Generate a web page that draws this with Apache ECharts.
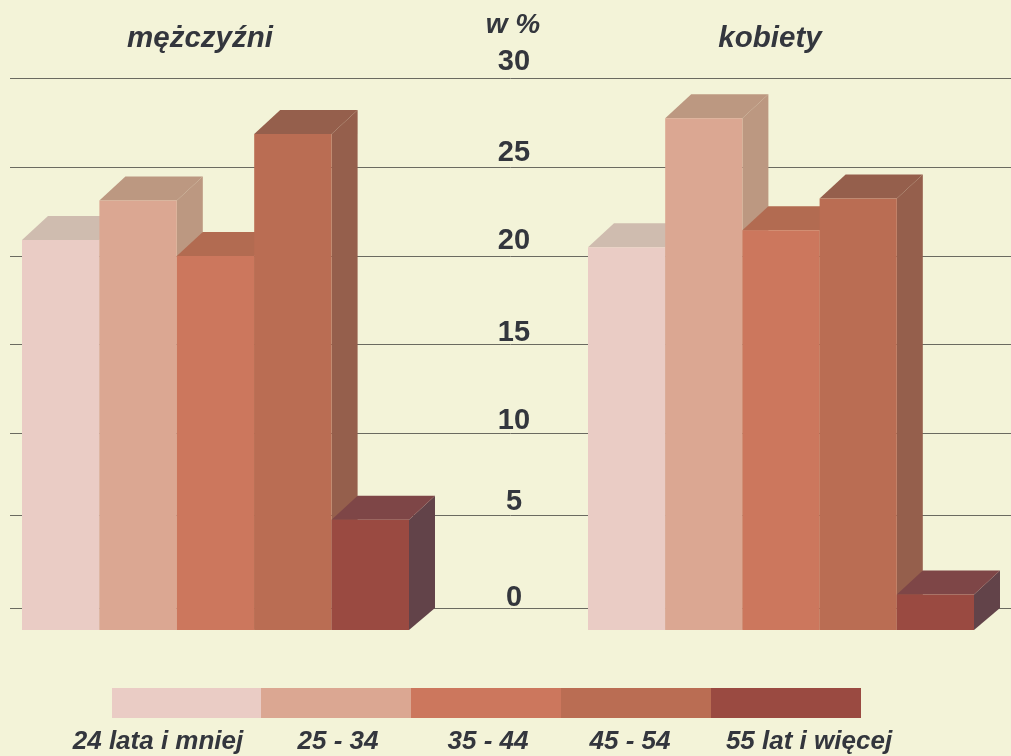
<!DOCTYPE html>
<html>
<head>
<meta charset="utf-8">
<style>
  html, body { margin: 0; padding: 0; background: #f3f3d8; }
  #chart { width: 1011px; height: 756px; }
</style>
</head>
<body>
<div id="chart"></div>
<script src="https://cdn.jsdelivr.net/npm/echarts@6/dist/echarts.min.js"></script>
<script>
const ageGroups = ['24 lata i mniej', '25 - 34', '35 - 44', '45 - 54', '55 lat i więcej']
const menValues = [22.2, 24.44, 21.3, 28.2, 6.36]
const womenValues = [21.79, 29.1, 22.75, 24.55, 2.13]
// the lines and the numbers in the picture are not quite on the even steps
const gridLineValues = [0, 5.27, 9.92, 14.96, 19.94, 24.99, 30]
const tickLabelValues = [0.56, 6.0, 10.59, 15.58, 20.79, 25.78, 30.93]

const frontColors = ['#eaccc5', '#dba792', '#cc775d', '#ba6d53', '#9a4a41']
const topColors = ['#cfbcaf', '#bc9881', '#b26b51', '#955f4c', '#7e4647']
const sideColors = ['#cfbcaf', '#bc9881', '#b26b51', '#955f4c', '#624349']
const FONT = '"Liberation Sans", Arial, sans-serif'
const TEXT_COLOR = '#33363d'
const DEPTH_X = 26
const DEPTH_TOP = 24
const DEPTH_BASE = 22

function renderBar (params, api) {
  const i = api.value(0)
  const cellWidth = api.size([1, 0])[0]
  const backTop = api.coord([i, api.value(1)])
  const zero = api.coord([i, 0])
  const x0 = backTop[0] - cellWidth / 2
  const x1 = x0 + cellWidth
  const top = backTop[1] + DEPTH_TOP
  const base = zero[1] + DEPTH_BASE
  return {
    type: 'group',
    children: [
      {
        type: 'polygon',
        shape: { points: [[x1, top], [x1 + DEPTH_X, backTop[1]], [x1 + DEPTH_X, zero[1]], [x1, base]] },
        style: { fill: sideColors[i] }
      },
      {
        type: 'polygon',
        shape: { points: [[x0, top], [x0 + DEPTH_X, backTop[1]], [x1 + DEPTH_X, backTop[1]], [x1, top]] },
        style: { fill: topColors[i] }
      },
      {
        type: 'rect',
        shape: { x: x0, y: top, width: cellWidth, height: base - top },
        style: { fill: frontColors[i] }
      }
    ]
  }
}

function barSeries (values, gridIndex) {
  return {
    type: 'custom',
    xAxisIndex: gridIndex,
    yAxisIndex: gridIndex,
    clip: false,
    renderItem: renderBar,
    encode: { x: 0, y: 1 },
    data: values.map((v, i) => [i, v])
  }
}

function hiddenY (gridIndex) {
  return { type: 'value', gridIndex: gridIndex, min: 0, max: 32, show: false }
}

function hiddenX (gridIndex) {
  return { type: 'category', gridIndex: gridIndex, data: ageGroups, show: false }
}

function heading (text, x, y, size) {
  return {
    text: text,
    left: x,
    top: y,
    padding: 0,
    textAlign: 'center',
    textStyle: { fontFamily: FONT, fontSize: size, fontWeight: 'bold', fontStyle: 'italic', color: TEXT_COLOR }
  }
}

const stripX = [112, 261, 411, 561, 711, 861]
const legendTextX = [158, 338, 488, 630, 809]
const legendGraphics = []
ageGroups.forEach((name, i) => {
  legendGraphics.push({
    type: 'rect',
    shape: { x: stripX[i], y: 688, width: stripX[i + 1] - stripX[i], height: 30 },
    style: { fill: frontColors[i] }
  })
  legendGraphics.push({
    type: 'text',
    x: legendTextX[i],
    y: 742,
    style: {
      text: name,
      align: 'center',
      verticalAlign: 'middle',
      fontFamily: FONT,
      fontSize: 26,
      fontWeight: 'bold',
      fontStyle: 'italic',
      fill: TEXT_COLOR
    }
  })
})

const myChart = echarts.init(document.getElementById('chart'), null, { renderer: 'canvas' })
myChart.setOption({
  backgroundColor: '#f3f3d8',
  animation: false,
  title: [
    heading('mężczyźni', 200, 24, 29.5),
    heading('w %', 513, 11, 28),
    heading('kobiety', 770, 24, 29.5)
  ],
  grid: [
    { left: 10, width: 1001, top: 43, height: 565 },
    { left: 22, width: 387, top: 43, height: 565 },
    { left: 588, width: 386, top: 43, height: 565 }
  ],
  xAxis: [hiddenX(0), hiddenX(1), hiddenX(2)],
  yAxis: [
    {
      type: 'value',
      gridIndex: 0,
      min: 0,
      max: 32,
      offset: -504,
      axisLine: { show: false },
      axisTick: { show: false, customValues: gridLineValues },
      splitLine: { show: true, lineStyle: { color: '#6a6a60', width: 1 } },
      axisLabel: {
        customValues: tickLabelValues,
        formatter: v => String(Math.round(v / 5) * 5),
        align: 'center',
        margin: 0,
        fontFamily: FONT,
        fontSize: 29,
        fontWeight: 'bold',
        color: TEXT_COLOR
      }
    },
    hiddenY(1),
    hiddenY(2)
  ],
  series: [barSeries(menValues, 1), barSeries(womenValues, 2)],
  graphic: legendGraphics
})
</script>
</body>
</html>
